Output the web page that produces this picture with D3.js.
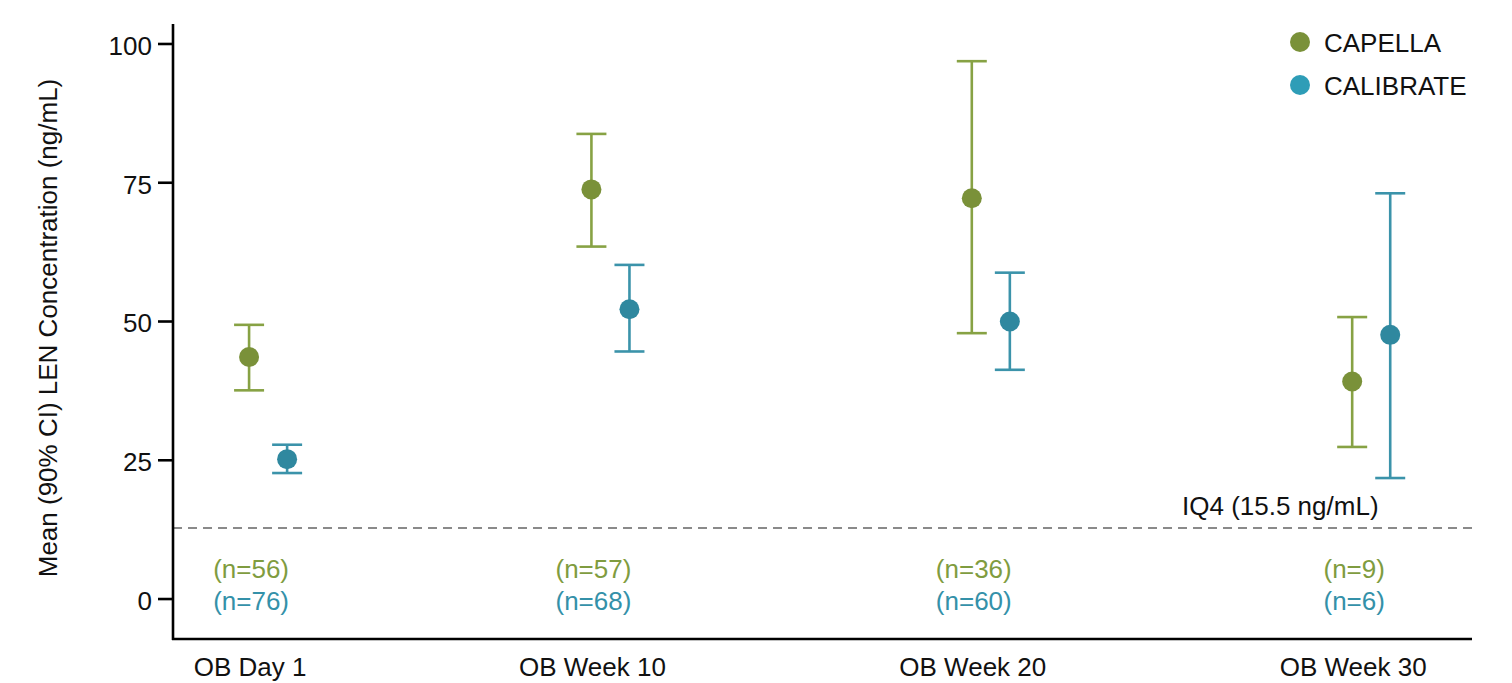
<!DOCTYPE html>
<html lang="en">
<head>
<meta charset="UTF-8">
<title>LEN Concentration</title>
<script src="https://d3js.org/d3.v7.min.js"></script>
<style>
  body { margin: 0; background: #fff; }
  text { font-family: "Liberation Sans", Arial, sans-serif; }
</style>
</head>
<body>
<div id="chart"></div>
<script>
// visit labels and their position on the week axis
const visits = ["OB Day 1", "OB Week 10", "OB Week 20", "OB Week 30"];
const visitWeek = [1, 10, 20, 30];

// CAPELLA mean and 90% CI
const capellaMean = [43.6, 73.8, 72.2, 39.2];
const capellaLow = [37.6, 63.5, 47.9, 27.4];
const capellaHigh = [49.4, 83.8, 96.9, 50.8];
const capellaN = [56, 57, 36, 9];

// CALIBRATE mean and 90% CI
const calibrateMean = [25.2, 52.2, 50.0, 47.6];
const calibrateLow = [22.7, 44.6, 41.3, 21.8];
const calibrateHigh = [27.8, 60.2, 58.8, 73.1];
const calibrateN = [76, 68, 60, 6];

const yTicks = [0, 25, 50, 75, 100];
const iq4Line = 12.8;

const width = 1512, height = 683;

const svg = d3.select("#chart").append("svg")
    .attr("width", width)
    .attr("height", height);

const x = d3.scaleLinear().domain([-1.0, 33.15]).range([173, 1472]);
const y = d3.scaleLinear().domain([-7.2, 103.6]).range([639, 24]);

const series = [
    { name: "CAPELLA", mean: capellaMean, low: capellaLow, high: capellaHigh, n: capellaN,
      shift: 0, dot: "#7a9139", bar: "#87a244", legend: "#7a9139", label: "#7f9c40" },
    { name: "CALIBRATE", mean: calibrateMean, low: calibrateLow, high: calibrateHigh, n: calibrateN,
      shift: 1, dot: "#2f889f", bar: "#3b93aa", legend: "#2e9db7", label: "#3491a9" }
];

// reference line IQ4
svg.append("line")
    .attr("x1", x(-1.0)).attr("x2", x(33.15))
    .attr("y1", y(iq4Line)).attr("y2", y(iq4Line))
    .attr("stroke", "#8a8a8a")
    .attr("stroke-width", 2)
    .attr("stroke-dasharray", "9,6");

svg.append("text")
    .attr("x", 1182)
    .attr("y", y(iq4Line) - 13)
    .style("font-size", "26px")
    .attr("fill", "#111")
    .text("IQ4 (15.5 ng/mL)");

// error bars + points
series.forEach(function (s) {
    const g = svg.append("g");
    const rows = visitWeek.map(function (w, i) {
        return { w: w + s.shift, mean: s.mean[i], low: s.low[i], high: s.high[i] };
    });

    g.selectAll(".stem").data(rows).enter().append("line")
        .attr("x1", d => x(d.w)).attr("x2", d => x(d.w))
        .attr("y1", d => y(d.low)).attr("y2", d => y(d.high))
        .attr("stroke", s.bar).attr("stroke-width", 2.6);

    g.selectAll(".capHi").data(rows).enter().append("line")
        .attr("x1", d => x(d.w) - 15).attr("x2", d => x(d.w) + 15)
        .attr("y1", d => y(d.high)).attr("y2", d => y(d.high))
        .attr("stroke", s.bar).attr("stroke-width", 2.6);

    g.selectAll(".capLo").data(rows).enter().append("line")
        .attr("x1", d => x(d.w) - 15).attr("x2", d => x(d.w) + 15)
        .attr("y1", d => y(d.low)).attr("y2", d => y(d.low))
        .attr("stroke", s.bar).attr("stroke-width", 2.6);

    g.selectAll("circle").data(rows).enter().append("circle")
        .attr("cx", d => x(d.w)).attr("cy", d => y(d.mean))
        .attr("r", 10)
        .attr("fill", s.dot);
});

// n labels under each visit
series.forEach(function (s, k) {
    svg.selectAll(".n" + k).data(visitWeek).enter().append("text")
        .attr("x", d => x(d) + 2)
        .attr("y", k === 0 ? 578 : 610)
        .attr("text-anchor", "middle")
        .style("font-size", "26px")
        .attr("fill", s.label)
        .text((d, i) => "(n=" + s.n[i] + ")");
});

// axes
svg.append("line")
    .attr("x1", x(-1.0)).attr("x2", x(-1.0))
    .attr("y1", y(103.6)).attr("y2", y(-7.2) + 1)
    .attr("stroke", "#000").attr("stroke-width", 2.6);

svg.append("line")
    .attr("x1", x(-1.0) - 1).attr("x2", x(33.15))
    .attr("y1", y(-7.2)).attr("y2", y(-7.2))
    .attr("stroke", "#000").attr("stroke-width", 2.6);

const yt = svg.selectAll(".ytick").data(yTicks).enter().append("g");
yt.append("line")
    .attr("x1", x(-1.0) - 15).attr("x2", x(-1.0))
    .attr("y1", d => y(d)).attr("y2", d => y(d))
    .attr("stroke", "#000").attr("stroke-width", 2.6);
yt.append("text")
    .attr("x", 152)
    .attr("y", d => y(d))
    .attr("dy", "0.42em")
    .attr("text-anchor", "end")
    .style("font-size", "26px")
    .attr("fill", "#111")
    .text(d => d);

svg.selectAll(".xlab").data(visits).enter().append("text")
    .attr("x", (d, i) => x(visitWeek[i]) + 1)
    .attr("y", 676)
    .attr("text-anchor", "middle")
    .style("font-size", "26px")
    .attr("fill", "#111")
    .text(d => d);

// y axis title
svg.append("text")
    .attr("transform", "translate(57," + 328 + ") rotate(-90)")
    .attr("text-anchor", "middle")
    .style("font-size", "26px")
    .attr("fill", "#111")
    .text("Mean (90% CI) LEN Concentration (ng/mL)");

// legend
series.forEach(function (s, i) {
    const ly = 42 + i * 43;
    svg.append("circle")
        .attr("cx", 1300).attr("cy", ly)
        .attr("r", 10)
        .attr("fill", s.legend);
    svg.append("text")
        .attr("x", 1324).attr("y", ly + 10)
        .style("font-size", "26px")
        .attr("fill", "#111")
        .text(s.name);
});
</script>
</body>
</html>
